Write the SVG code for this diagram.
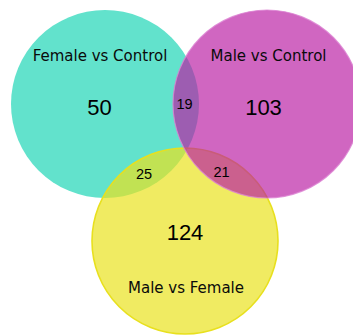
<svg xmlns="http://www.w3.org/2000/svg" width="353" height="335" viewBox="0 0 353 335">
<style>
.lbl{font-family:"DejaVu Sans",Verdana,sans-serif;font-size:15px;fill:#0a0a0a;text-anchor:middle}
.num{font-family:"Liberation Sans",Arial,sans-serif;fill:#000;text-anchor:middle}
.big{font-size:22px}
.sm{font-size:14.5px}
</style>
<rect width="353" height="335" fill="#ffffff"/>
<g id="female-vs-control">
<circle cx="105" cy="104" r="94" fill="rgb(98,226,204)"/>
</g>
<g id="male-vs-female">
<circle cx="185" cy="241" r="93" fill="rgb(234,226,31)" fill-opacity="0.7" stroke="rgb(232,224,30)" stroke-width="1.6"/>
</g>
<g id="male-vs-control">
<circle cx="267" cy="104" r="94" fill="rgb(186,30,164)" fill-opacity="0.68" stroke="rgb(220,130,210)" stroke-opacity="0.8" stroke-width="1.2"/>
</g>
<g id="labels">
<text class="lbl" x="100" y="61">Female vs Control</text>
<text class="lbl" x="268.5" y="61">Male vs Control</text>
<text class="lbl" x="186" y="293">Male vs Female</text>
<text class="num big" x="99.5" y="115">50</text>
<text class="num big" x="263.5" y="115">103</text>
<text class="num big" x="185" y="240">124</text>
<text class="num sm" x="184.5" y="108.5">19</text>
<text class="num sm" x="144" y="179">25</text>
<text class="num sm" x="221.5" y="177">21</text>
</g>
</svg>
